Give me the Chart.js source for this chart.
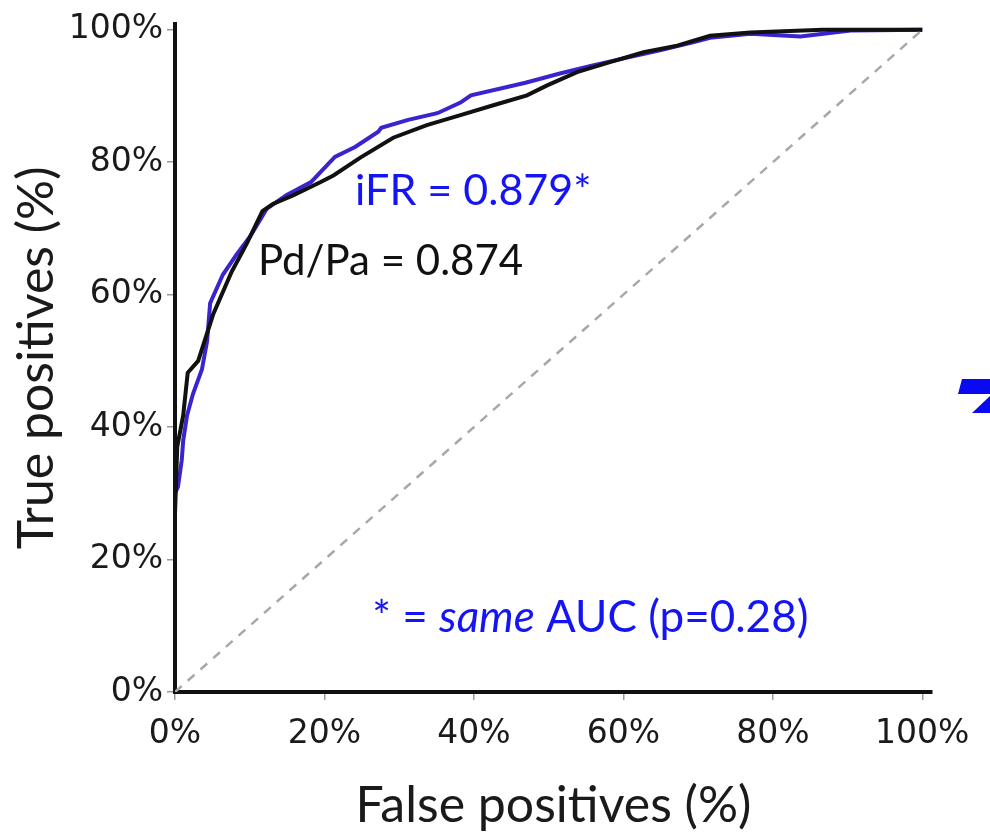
<!DOCTYPE html>
<html>
<head>
<meta charset="utf-8">
<script src="https://cdn.jsdelivr.net/npm/chart.js@4.4.1/dist/chart.umd.min.js"></script>
<style>
  html, body { margin: 0; padding: 0; background: #fff; }
  #wrap { width: 990px; height: 836px; position: relative; }
</style>
</head>
<body>
<div id="wrap"><canvas id="roc"></canvas></div>
<script>
// ROC curves, values in %
const pdpaX = [0, 0, 0.3, 1.1, 1.7, 3.1, 5.1, 7.6, 9.6, 11.7, 13.1, 15.8, 19.5, 21.2, 24.8, 29.2, 33.7, 38.2, 42.6, 47.1, 49.8, 53.8, 58.2, 62.7, 67.2, 71.6, 77, 86.7, 100];
const pdpaY = [0, 26.8, 37, 41.8, 48.2, 50, 57, 63.5, 67.7, 72.6, 73.7, 75, 77, 78, 80.7, 83.7, 85.6, 87.1, 88.6, 90.1, 91.6, 93.6, 95.1, 96.6, 97.6, 99.1, 99.6, 100, 100];

const ifrX = [0, 0, 0.4, 0.9, 1.1, 1.6, 2.4, 3.6, 4.3, 4.7, 6.4, 8.2, 10, 12.3, 14.9, 18.2, 21.4, 24.1, 27.2, 27.6, 31.2, 35.1, 38.2, 39.6, 46.9, 51.5, 55.9, 60.5, 64.9, 69.3, 71.6, 77, 83.7, 90.4, 100];
const ifrY = [0, 30, 31, 35, 38, 41.7, 45, 48.7, 53, 58.7, 63, 66, 68.7, 73, 75, 77, 80.8, 82.3, 84.6, 85.2, 86.4, 87.4, 89, 90.1, 92, 93.4, 94.6, 95.8, 96.9, 98.1, 98.8, 99.4, 99.0, 99.9, 100];

const chanceX = [0, 100];
const chanceY = [0, 100];

const tickValues = [0, 20, 40, 60, 80, 100];

const labelIfr = 'iFR = 0.879*';
const labelPdpa = 'Pd/Pa = 0.874';

const toPoints = (xs, ys) => xs.map((x, i) => ({ x: x, y: ys[i] }));

const BLUE_TEXT = '#1414f5';
const BLUE_LINE = '#3a24d0';

// text notes drawn at data positions
const notesPlugin = {
  id: 'notes',
  afterDatasetsDraw(chart) {
    const { ctx, scales } = chart;
    const sx = scales.x, sy = scales.y;
    ctx.save();
    ctx.textBaseline = 'middle';
    ctx.textAlign = 'left';
    ctx.font = '43px Lato';
    ctx.fillStyle = BLUE_TEXT;
    ctx.fillText(labelIfr, sx.getPixelForValue(24.1), sy.getPixelForValue(75.7));
    ctx.font = '42px Lato';
    ctx.fillStyle = '#111';
    ctx.fillText(labelPdpa, sx.getPixelForValue(11.1), sy.getPixelForValue(65));

    // "* = same AUC (p=0.28)" with italic "same"
    let x = sx.getPixelForValue(26.4);
    const y = sy.getPixelForValue(11.2);
    ctx.fillStyle = BLUE_TEXT;
    const parts = [['* = ', '44px Lato'], ['same', 'italic 44px Lato'], [' AUC (p=0.28)', '44px Lato']];
    parts.forEach(([t, f]) => {
      ctx.font = f;
      ctx.fillText(t, x, y);
      x += ctx.measureText(t).width;
    });
    ctx.restore();
  }
};

// cropped blue arrow piece at the right edge of the slide
const edgePlugin = {
  id: 'edge',
  afterDraw(chart) {
    const { ctx, width } = chart;
    ctx.save();
    ctx.fillStyle = '#0a0af0';
    ctx.beginPath();
    ctx.moveTo(width - 28, 379);
    ctx.lineTo(width, 379);
    ctx.lineTo(width, 394);
    ctx.lineTo(width - 32, 394);
    ctx.closePath();
    ctx.fill();
    ctx.beginPath();
    ctx.moveTo(width - 18, 413);
    ctx.lineTo(width, 413);
    ctx.lineTo(width, 396);
    ctx.closePath();
    ctx.fill();
    ctx.restore();
  }
};

const pct = v => tickValues.includes(v) ? v + '%' : '';

new Chart(document.getElementById('roc'), {
  type: 'scatter',
  data: {
    datasets: [
      {
        label: 'chance',
        data: toPoints(chanceX, chanceY),
        showLine: true,
        borderColor: '#a8a8a8',
        borderWidth: 2.5,
        borderDash: [9, 8],
        pointRadius: 0
      },
      {
        label: 'Pd/Pa',
        data: toPoints(pdpaX, pdpaY),
        showLine: true,
        borderColor: '#111',
        borderWidth: 4,
        pointRadius: 0,
        tension: 0
      },
      {
        label: 'iFR',
        data: toPoints(ifrX, ifrY),
        showLine: true,
        borderColor: BLUE_LINE,
        borderWidth: 4,
        pointRadius: 0,
        tension: 0
      }
    ]
  },
  options: {
    responsive: true,
    maintainAspectRatio: false,
    animation: false,
    layout: { padding: { top: 18, right: 58, bottom: 0, left: 0 } },
    plugins: {
      legend: { display: false },
      tooltip: { enabled: false }
    },
    scales: {
      x: {
        type: 'linear',
        min: 0,
        max: 101.3,
        afterFit: s => { s.height = 144; },
        border: { display: true, color: '#111', width: 4 },
        grid: { drawOnChartArea: false, drawTicks: true, tickLength: 8, color: '#999', lineWidth: 1.5 },
        ticks: {
          stepSize: 20,
          includeBounds: false,
          autoSkip: false,
          maxRotation: 0,
          padding: 15,
          color: '#1a1a1a',
          font: { family: 'DejaVu Sans', size: 33 },
          callback: pct
        },
        title: {
          display: true,
          text: 'False positives (%)',
          color: '#1a1a1a',
          font: { family: 'Lato', size: 50 },
          padding: { top: 0, bottom: 0 }
        }
      },
      y: {
        type: 'linear',
        min: 0,
        max: 100.9,
        afterFit: s => { s.width = 175; },
        border: { display: true, color: '#111', width: 4 },
        grid: { drawOnChartArea: false, drawTicks: true, tickLength: 8, color: '#999', lineWidth: 1.5 },
        ticks: {
          stepSize: 20,
          includeBounds: false,
          autoSkip: false,
          padding: 4,
          color: '#1a1a1a',
          font: { family: 'DejaVu Sans', size: 33 },
          callback: pct
        },
        title: {
          display: true,
          text: 'True positives (%)',
          color: '#1a1a1a',
          font: { family: 'Lato', size: 50 },
          padding: { top: 7, bottom: 0 }
        }
      }
    }
  },
  plugins: [notesPlugin, edgePlugin]
});
</script>
</body>
</html>
